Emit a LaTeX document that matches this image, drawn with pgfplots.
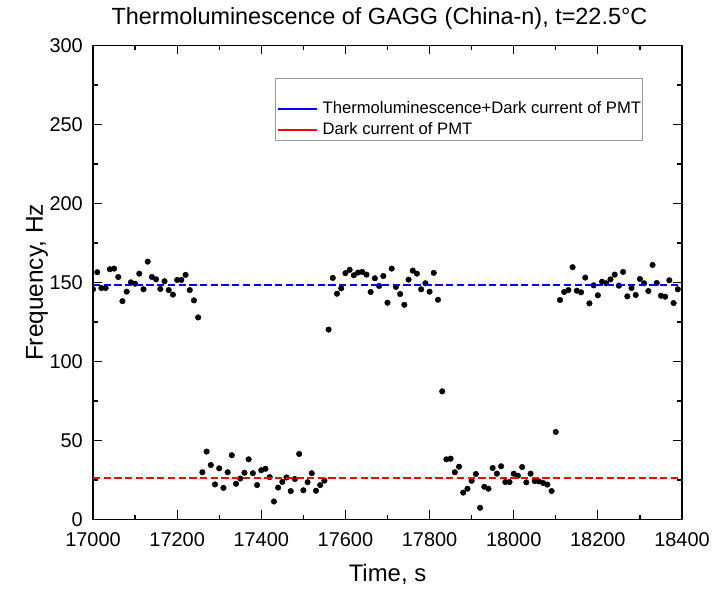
\documentclass[border=0pt]{standalone}
\usepackage{fontspec}
\setmainfont{Liberation Sans}
\usepackage{pgfplots}
\pgfplotsset{compat=1.18}
\begin{document}
\begin{tikzpicture}
\begin{axis}[
  scale only axis, width=589bp, height=474bp,
  xmin=17000, xmax=18400, ymin=0, ymax=300,
  xtick={17000,17200,...,18400}, ytick={0,50,...,300},
  minor x tick num=1, minor y tick num=1,
  tick align=inside, xtick pos=both, ytick pos=both,
  xticklabel pos=lower, yticklabel pos=left,
  major tick length=9bp, minor tick length=5bp,
  every tick/.style={black, line width=1.2bp},
  axis line style={black, line width=1.5bp},
  scaled ticks=false,
  /pgf/number format/1000 sep={},
  /pgf/number format/assume math mode=true,
  tick label style={font=\fontsize{20}{22}\selectfont},
  xticklabel style={anchor=base, inner sep=0pt, yshift=-26.5bp},
  yticklabel style={anchor=east, inner sep=0pt, xshift=-10bp},
  title={Thermoluminescence of GAGG (China-n), t=22.5°C},
  title style={font=\fontsize{23.5}{28}\selectfont, at={(0.5,1)}, anchor=base, yshift=15.5bp, xshift=-8bp},
  xlabel={Time, s},
  xlabel style={font=\fontsize{24}{28}\selectfont, at={(axis description cs:0.5,0)}, anchor=base, yshift=-62bp},
  ylabel={Frequency, Hz},
  ylabel style={font=\fontsize{24.5}{28}\selectfont, at={(axis description cs:-0.085,0.5)}, anchor=base},
  clip marker paths=true,
  legend cell align=left,
  legend style={at={(0.3085,0.932)}, anchor=north west, draw=gray!80, line width=0.8bp,
    font=\fontsize{16.7}{20}\selectfont, inner xsep=1.5bp, inner ysep=1.5bp,
    row sep=4bp, column sep=5bp,
    nodes={inner sep=0pt, text height=13bp, text depth=4bp}},
  legend image code/.code={\draw[#1] (0bp,0bp) -- (39bp,0bp);},
]
\addplot[only marks, mark=*, mark size=2.8bp, black, forget plot] table {
x y
17000 145.7
17010 156.5
17020 146.5
17030 146.5
17040 158.4
17050 158.8
17060 153.5
17070 138.2
17080 144.2
17090 150.1
17100 149.2
17110 155.6
17120 145.7
17130 163.2
17140 153.5
17150 152.0
17160 145.9
17170 150.8
17180 145.2
17190 142.3
17200 151.6
17210 151.6
17220 154.8
17230 145.2
17240 138.7
17250 127.9
17260 29.9
17270 43.0
17280 34.5
17290 22.2
17300 32.4
17310 20.0
17320 29.9
17330 40.7
17340 22.6
17350 25.9
17360 29.6
17370 38.1
17380 29.3
17390 21.8
17400 31.2
17410 32.1
17420 26.8
17430 11.4
17440 20.2
17450 23.8
17460 26.6
17470 18.0
17480 25.6
17490 41.5
17500 18.5
17510 23.6
17520 29.3
17530 18.2
17540 21.8
17550 24.6
17560 120.2
17570 152.9
17580 142.9
17590 146.3
17600 155.9
17610 158.0
17620 154.6
17630 156.3
17640 156.7
17650 155.0
17660 144.0
17670 152.7
17680 147.8
17690 154.1
17700 137.2
17710 158.8
17720 147.2
17730 142.7
17740 135.9
17750 151.8
17760 157.5
17770 155.6
17780 145.7
17790 149.5
17800 144.2
17810 156.1
17820 139.1
17830 81.1
17840 38.1
17850 38.5
17860 29.9
17870 33.4
17880 17.0
17890 19.5
17900 24.5
17910 28.8
17920 7.4
17930 20.7
17940 19.5
17950 32.6
17960 29.0
17970 33.7
17980 23.7
17990 23.7
18000 29.0
18010 27.7
18020 33.2
18030 23.5
18040 29.0
18050 24.3
18060 24.1
18070 23.1
18080 22.1
18090 18.0
18100 55.4
18110 138.9
18120 144.0
18130 145.2
18140 159.7
18150 144.8
18160 143.8
18170 153.1
18180 136.8
18190 148.2
18200 141.9
18210 150.5
18220 149.5
18230 152.0
18240 155.0
18250 148.0
18260 156.7
18270 141.2
18280 146.5
18290 142.1
18300 152.2
18310 149.5
18320 144.6
18330 161.1
18340 149.7
18350 141.6
18360 141.0
18370 151.4
18380 137.0
18390 145.7
};
\addplot[blue, line width=2bp, dash pattern=on 7.3bp off 3.4bp, forget plot] coordinates {(17000,148.2) (18400,148.2)};
\addplot[red, line width=2bp, dash pattern=on 7.3bp off 3.4bp, forget plot] coordinates {(17000,26.4) (18400,26.4)};
\addlegendimage{empty legend}
\addlegendentry{}
\addlegendimage{blue, line width=2bp}
\addlegendentry{Thermoluminescence+Dark current of PMT}
\addlegendimage{red, line width=2bp}
\addlegendentry{Dark current of PMT}
\end{axis}
\pgfresetboundingbox
\path[use as bounding box] (-93bp,-69.5bp) rectangle (632bp,519.5bp);
\end{tikzpicture}
\end{document}
